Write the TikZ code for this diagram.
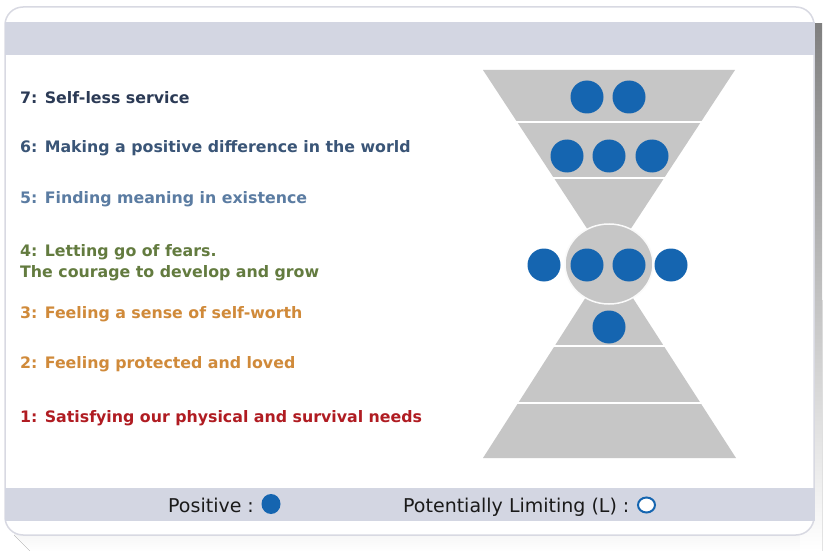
\documentclass[tikz,border=0pt]{standalone}
\usepackage{fontspec}
\usetikzlibrary{shapes.geometric}
\setmainfont{DejaVu Sans}
\definecolor{band}{HTML}{D3D6E2}
\definecolor{cardline}{HTML}{D8D9E2}
\definecolor{shade}{HTML}{BEBEBE}
\definecolor{glass}{HTML}{C6C6C6}
\definecolor{dot}{HTML}{1565B0}
\definecolor{cseven}{HTML}{2B3A55}
\definecolor{csix}{HTML}{3A5577}
\definecolor{cfive}{HTML}{5B7CA2}
\definecolor{cfour}{HTML}{637B3F}
\definecolor{cthree}{HTML}{D08A3A}
\definecolor{cone}{HTML}{B01C22}
\definecolor{foottext}{HTML}{1A1A1A}
\tikzset{
  lvl/.style={anchor=west, font=\bfseries\fontsize{15.8}{21}\selectfont, inner sep=0pt, align=left},
  bluedot/.style={circle, fill=dot, minimum size=33pt, inner sep=0pt},
  sep/.style={white, line width=2pt},
  foot/.style={font=\fontsize{19}{22}\selectfont, text=foottext, inner sep=0pt, anchor=base west}
}
\begin{document}
\begin{tikzpicture}[x=1pt,y=-1pt]
\useasboundingbox (0,0) rectangle (823,551);
% shadow
\fill[shade] (30,551) -- (14,535) -- (14,300) -- (822,300) -- (822,551) -- cycle;
\fill[shade] (800,24) rectangle (822,551);
% card
\filldraw[fill=white, draw=cardline, line width=1.5pt, rounded corners=18pt] (5,7) rectangle (814,535);
\fill[band] (5,22) rectangle (815,55);
\fill[band] (5,488) rectangle (815,521);
% hourglass
\fill[glass] (483,70) -- (735,70) -- (609,262) -- cycle;
\fill[glass] (483,458) -- (736,458) -- (609,261) -- cycle;
\draw[sep] (510,122) -- (710,122);
\draw[sep] (540,178) -- (680,178);
\draw[sep] (540,346) -- (680,346);
\draw[sep] (505,403) -- (715,403);
\filldraw[fill=glass, draw=white!92!glass, line width=1.5pt] (609,264) ellipse [x radius=44, y radius=40];
% dots
\node[bluedot] (d71) at (587,97) {};
\node[bluedot] (d72) at (629,97) {};
\node[bluedot] (d61) at (567,156) {};
\node[bluedot] (d62) at (609,156) {};
\node[bluedot] (d63) at (652,156) {};
\node[bluedot] (d41) at (544,265) {};
\node[bluedot] (d42) at (587,265) {};
\node[bluedot] (d43) at (629,265) {};
\node[bluedot] (d44) at (671,265) {};
\node[bluedot] (d31) at (609,327) {};
% labels
\node[lvl, text=cseven] (t7) at (20,98) {7: Self-less service};
\node[lvl, text=csix] (t6) at (20,148) {6: Making a positive difference in the world};
\node[lvl, text=cfive] (t5) at (20,199) {5: Finding meaning in existence};
\node[lvl, text=cfour] (t4) at (20,262.5) {4: Letting go of fears.\\The courage to develop and grow};
\node[lvl, text=cthree] (t3) at (20,314) {3: Feeling a sense of self-worth};
\node[lvl, text=cthree] (t2) at (20,364) {2: Feeling protected and loved};
\node[lvl, text=cone] (t1) at (20,418) {1: Satisfying our physical and survival needs};
% legend
\node[foot] (pos) at (168,512) {Positive :};
\node[ellipse, fill=dot, minimum width=19pt, minimum height=20pt, inner sep=0pt] (posdot) at (271,504) {};
\node[foot] (lim) at (403,512) {Potentially Limiting (L) :};
\node[ellipse, draw=dot, fill=white, line width=2pt, minimum width=17pt, minimum height=15pt, inner sep=0pt] (limdot) at (646.5,505) {};
\end{tikzpicture}
\end{document}
